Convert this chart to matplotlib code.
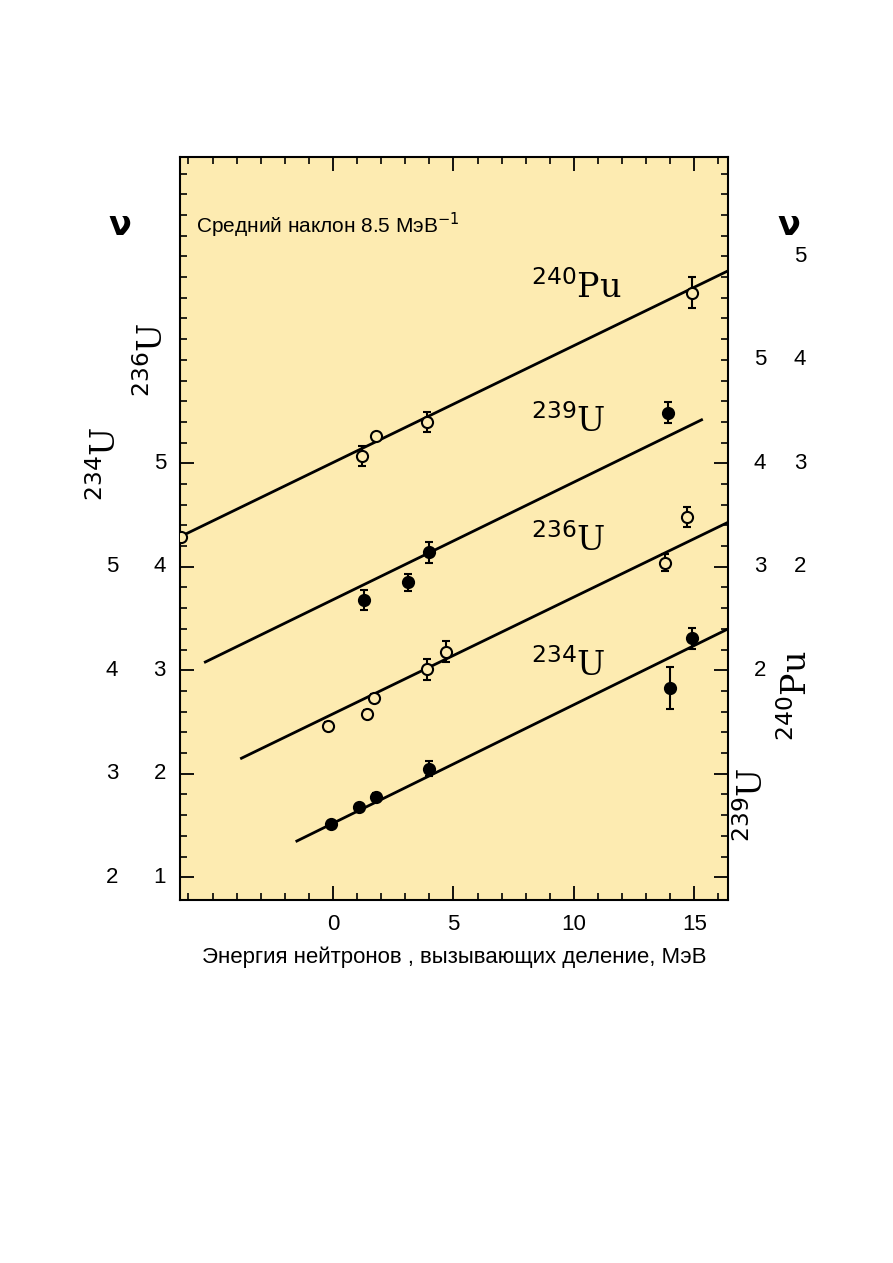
import matplotlib
matplotlib.use("Agg")
import matplotlib.pyplot as plt
import matplotlib.transforms as mtransforms
import numpy as np

# Energies (MeV) and nu values in each nuclide's own scale
u234_E = [-0.1, 1.1, 1.8, 4.0, 14.0, 14.9]
u234_nu = [2.51, 2.68, 2.78, 3.05, 3.83, 4.31]
u234_err = [0.03, 0.03, 0.03, 0.07, 0.2, 0.1]
u234_off = 1.0  # own scale = main + 1

u236_E = [-0.2, 1.4, 1.7, 3.9, 4.7, 13.8, 14.7]
u236_nu = [2.46, 2.58, 2.73, 3.01, 3.18, 4.04, 4.48]
u236_err = [0.04, 0.04, 0.04, 0.1, 0.1, 0.08, 0.1]
u236_off = 0.0

u239_E = [1.3, 3.1, 4.0, 13.9]
u239_nu = [2.68, 2.85, 3.14, 4.49]
u239_err = [0.1, 0.08, 0.1, 0.1]
u239_off = -1.0  # own = main - 1

pu240_E = [-6.3, 1.2, 1.8, 3.9, 14.9]
pu240_nu = [2.29, 3.07, 3.26, 3.40, 4.65]
pu240_err = [0.02, 0.1, 0.03, 0.1, 0.15]
pu240_off = -2.0

# fitted lines (E range, own-scale nu at ends)
u234_line = ([-1.5, 16.4], [2.35, 4.40])
u236_line = ([-3.8, 16.4], [2.15, 4.43])
u239_line = ([-5.3, 15.3], [2.08, 4.42])
pu240_line = ([-6.35, 16.4], [2.29, 4.86])

left_outer = [2, 3, 4, 5]      # 234U
left_inner = [1, 2, 3, 4, 5]   # 236U
right_inner = [2, 3, 4, 5]     # 239U
right_outer = [2, 3, 4, 5]     # 240Pu
xticks = [0, 5, 10, 15]

fig = plt.figure(figsize=(8.93, 12.63), dpi=100)
ax = fig.add_axes([0.2016, 0.2874, 0.6137, 0.5883])
ax.set_facecolor("#fdebb1")
ax.set_xlim(-6.35, 16.4)
ax.set_ylim(0.78, 7.96)
for s in ax.spines.values():
    s.set_linewidth(1.5)

def series(E, nu, err, off, line, filled):
    m = np.array(nu) - off
    ax.plot(line[0], np.array(line[1]) - off, color="black", lw=2, zorder=2)
    ax.errorbar(E, m, yerr=err, fmt="o", ms=8, mew=1.5, color="black",
                mfc="black" if filled else "#fdebb1", mec="black",
                ecolor="black", elinewidth=1.5, capsize=3, zorder=3)

series(u234_E, u234_nu, u234_err, u234_off, u234_line, True)
series(u236_E, u236_nu, u236_err, u236_off, u236_line, False)
series(u239_E, u239_nu, u239_err, u239_off, u239_line, True)
series(pu240_E, pu240_nu, pu240_err, pu240_off, pu240_line, False)

ax.set_xticks(xticks)
ax.set_xticklabels([str(t) for t in xticks], fontsize=16, family="Liberation Sans")
ax.set_xticks(np.arange(-6, 17, 1), minor=True)
ax.tick_params(axis="x", which="major", direction="in", length=10, width=1.3,
               top=True, pad=10)
ax.tick_params(axis="x", which="minor", direction="in", length=5, width=1.2, top=True)
ax.set_yticks(left_inner)
ax.set_yticklabels([])
ax.set_yticks(np.arange(1, 8, 0.2), minor=True)
ax.tick_params(axis="y", which="major", direction="in", length=10, width=1.3, right=True)
ax.tick_params(axis="y", which="minor", direction="in", length=5, width=1.2, right=True)

tr = mtransforms.blended_transform_factory(ax.transAxes, ax.transData)
fs = dict(fontsize=16, family="Liberation Sans", va="center", ha="center", transform=tr)
for v in left_inner:
    ax.text(-0.037, v - u236_off, str(v), **fs)
for v in left_outer:
    ax.text(-0.124, v - u234_off, str(v), **fs)
for v in right_inner:
    ax.text(1.058, v - u239_off, str(v), **fs)
for v in right_outer:
    ax.text(1.131, v - pu240_off, str(v), **fs)

ax.text(-0.11, 7.3, "ν", transform=tr, fontsize=24, fontweight="bold", ha="center", va="center")
ax.text(1.11, 7.3, "ν", transform=tr, fontsize=24, fontweight="bold", ha="center", va="center")
ax.text(0.03, 7.3, "Средний наклон 8.5 МэВ$^{-1}$", transform=tr, fontsize=15,
        family="Liberation Sans", va="center", ha="left")

lab = dict(fontsize=24, family="DejaVu Serif", transform=tr)
ax.text(0.64, 6.7, r"$^{240}$Pu", ha="left", va="center", **lab)
ax.text(0.64, 5.4, r"$^{239}$U", ha="left", va="center", **lab)
ax.text(0.64, 4.25, r"$^{236}$U", ha="left", va="center", **lab)
ax.text(0.64, 3.05, r"$^{234}$U", ha="left", va="center", **lab)
ax.text(-0.05, 6.0, r"$^{236}$U", rotation=90, ha="center", va="center", **lab)
ax.text(-0.135, 5.0, r"$^{234}$U", rotation=90, ha="center", va="center", **lab)
ax.text(1.045, 1.7, r"$^{239}$U", rotation=90, ha="center", va="center", **lab)
ax.text(1.125, 2.75, r"$^{240}$Pu", rotation=90, ha="center", va="center", **lab)

ax.set_xlabel("Энергия нейтронов , вызывающих деление, МэВ", fontsize=16,
              family="Liberation Sans", labelpad=8)

fig.savefig("out.png", dpi=100)
